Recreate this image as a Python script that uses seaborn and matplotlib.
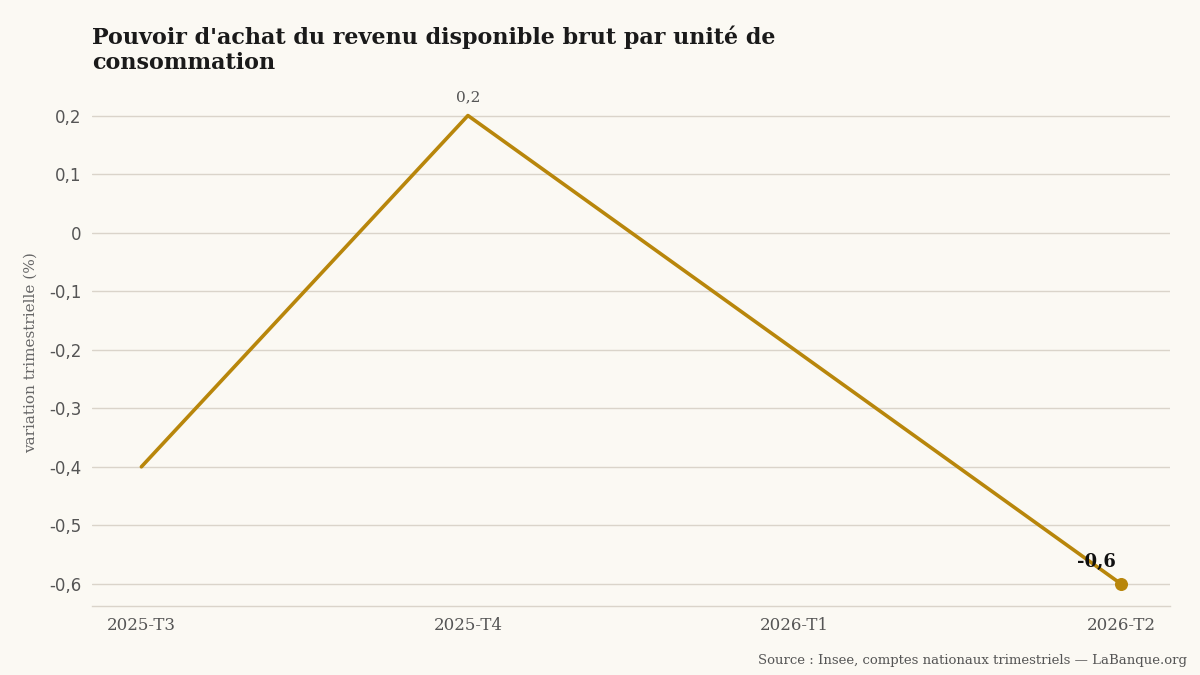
import matplotlib
matplotlib.use("Agg")
import matplotlib.pyplot as plt
import seaborn as sns
import pandas as pd

# data
quarters = ["2025-T3", "2025-T4", "2026-T1", "2026-T2"]
values = [-0.4, 0.2, -0.2, -0.6]
y_ticks = [0.2, 0.1, 0.0, -0.1, -0.2, -0.3, -0.4, -0.5, -0.6]
y_labels = ["0,2", "0,1", "0", "-0,1", "-0,2", "-0,3", "-0,4", "-0,5", "-0,6"]

BG = "#FBF9F3"
GOLD = "#B8860B"
GRID = "#DAD4CA"
SERIF = ["DejaVu Serif"]

sns.set_theme(style="white")
plt.rcParams["font.family"] = ["DejaVu Sans"]

df = pd.DataFrame({"quarter": quarters, "value": values})
df["pos"] = range(len(df))

fig = plt.figure(figsize=(12, 6.75), dpi=100, facecolor=BG)
ax = fig.add_axes([0.077, 0.102, 0.898, 0.752])
ax.set_facecolor(BG)

sns.lineplot(data=df, x="pos", y="value", color=GOLD, linewidth=2.6, ax=ax)
last = df.iloc[-1]
ax.scatter([last["pos"]], [last["value"]], s=70, color=GOLD, zorder=5)

# labels on points
peak = df.loc[df["value"].idxmax()]
ax.annotate("0,2", (peak["pos"], peak["value"]), xytext=(0, 8), textcoords="offset points",
            ha="center", va="bottom", fontsize=11, color="#555555", family=SERIF)
ax.annotate("-0,6", (last["pos"], last["value"]), xytext=(-4, 9), textcoords="offset points",
            ha="right", va="bottom", fontsize=13, fontweight="bold", color="#111111", family=SERIF)

ax.set_xlim(-0.15, 3.15)
ax.set_ylim(-0.638, 0.229)
ax.set_yticks(y_ticks)
ax.set_yticklabels(y_labels, fontsize=12, color="#555555")
ax.set_xticks(df["pos"])
ax.set_xticklabels(quarters, fontsize=12, color="#555555", family=SERIF)
ax.tick_params(axis="both", length=0, pad=8)
ax.grid(axis="y", color=GRID, linewidth=1)
ax.set_axisbelow(True)
for s in ["top", "left", "right"]:
    ax.spines[s].set_visible(False)
ax.spines["bottom"].set_color(GRID)
ax.spines["bottom"].set_linewidth(1)

ax.set_xlabel("")
ax.set_ylabel("variation trimestrielle (%)", fontsize=11, color="#666666", family=SERIF, labelpad=8)

fig.text(0.077, 0.89, "Pouvoir d'achat du revenu disponible brut par unité de\nconsommation",
         fontsize=16, fontweight="bold", color="#1a1a1a", family=SERIF, ha="left", va="bottom",
         linespacing=1.2)
fig.text(0.989, 0.012, "Source : Insee, comptes nationaux trimestriels — LaBanque.org",
         fontsize=9.5, color="#555555", family=SERIF, ha="right", va="bottom")

fig.savefig("out.png", dpi=100, facecolor=BG)
